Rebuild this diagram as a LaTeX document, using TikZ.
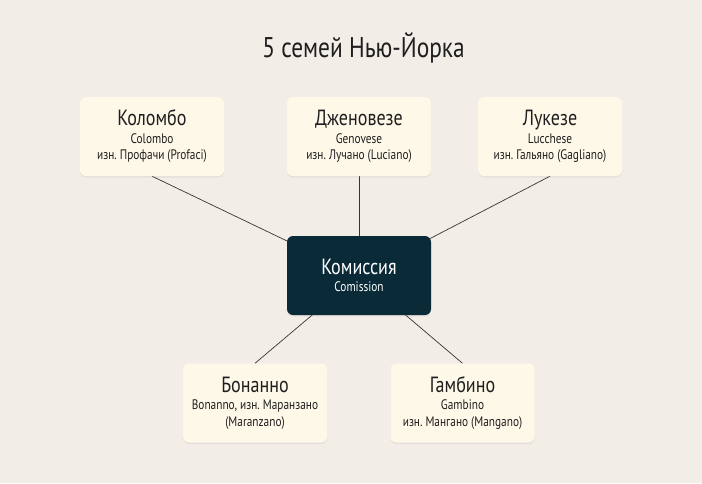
\documentclass[tikz,border=0pt]{standalone}
\usepackage{fontspec}
\setmainfont[FakeStretch=0.82]{PT Sans}
\usepackage{tikz}
\usetikzlibrary{backgrounds,shadows}
\frenchspacing

\definecolor{bgcol}{HTML}{F3EDE8}
\definecolor{boxcol}{HTML}{FEF8E9}
\definecolor{commcol}{HTML}{0A2A38}
\definecolor{inkcol}{HTML}{1E1E1E}

\begin{document}
\begin{tikzpicture}[x=1pt,y=-1pt]
                \tikzset{family/.style = {shape=rectangle, rounded corners=6pt, fill=boxcol,
                        minimum width=144pt, minimum height=79pt, inner sep=0pt, align=center,
                        text=inkcol, font=\fontsize{13.8}{16.5}\selectfont,
                        drop shadow={opacity=0.12, shadow xshift=0pt, shadow yshift=-1.5pt}}}
                \tikzset{comm/.style = {family, fill=commcol, text=white}}
                \tikzset{edge/.style = {draw=inkcol!90, line width=0.7pt}}
                \newcommand{\famname}[1]{{\fontsize{22}{20}\selectfont #1}\\[1pt]}
                \useasboundingbox (0,0) rectangle (702,483);

                % title
                \node[text=inkcol, font=\fontsize{28.5}{30}\selectfont] (title) at (363.5,48) {5 семей Нью-Йорка};

                % vertices
                \node[family] (colombo) at (152,136.5) {\famname{Коломбо}Colombo\\изн. Профачи (Profaci)};
                \node[family] (genovese) at (359,136.5) {\famname{Дженовезе}Genovese\\изн. Лучано (Luciano)};
                \node[family] (lucchese) at (550,136.5) {\famname{Лукезе}Lucchese\\изн. Гальяно (Gagliano)};
                \node[comm] (commission) at (359,275.5) {\famname{Комиссия}Comission};
                \node[family] (bonanno) at (255,403) {\famname{Бонанно}Bonanno, изн. Маранзано\\(Maranzano)};
                \node[family] (gambino) at (462.5,403) {\famname{Гамбино}Gambino\\изн. Мангано (Mangano)};

                %edges
                \begin{scope}[on background layer]
                \fill[bgcol] (0,0) rectangle (702,483);
                \draw[edge] (colombo.south) to (commission.center);
                \draw[edge] (genovese.south) to (commission.center);
                \draw[edge] (lucchese.south) to (commission.center);
                \draw[edge] (bonanno.north) to (commission.center);
                \draw[edge] (gambino.north) to (commission.center);
                \end{scope}
            \end{tikzpicture}
\end{document}
